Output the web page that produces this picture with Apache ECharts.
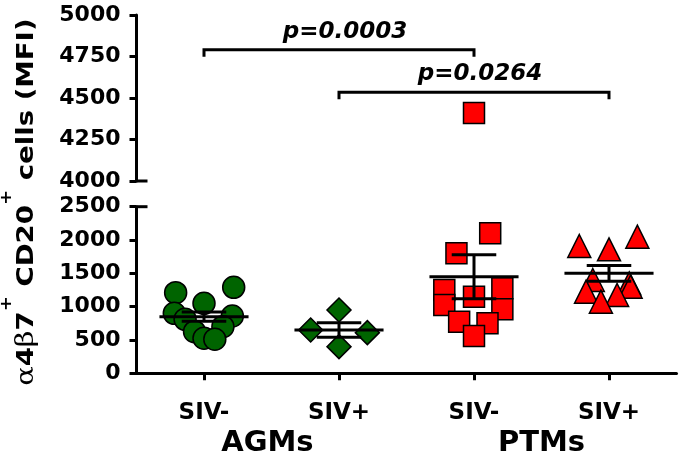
<!DOCTYPE html>
<html><head><meta charset="utf-8">
<script src="https://cdn.jsdelivr.net/npm/echarts@6/dist/echarts.min.js"></script>
<style>html,body{margin:0;padding:0;background:#fff}#c{width:680px;height:452px}</style>
</head><body><div id="c"></div>
<script>
const categories = ['SIV-', 'SIV+', 'SIV-', 'SIV+'];
const groups = ['AGMs', 'PTMs'];
const lowerTicks = [0, 500, 1000, 1500, 2000, 2500];
const upperTicks = [4000, 4250, 4500, 4750, 5000];
const agmNegValues = [1210, 1290, 1050, 900, 810, 860, 700, 625, 525, 510];
const agmNegJitter = [-0.21, 0.22, 0, -0.22, -0.14, 0.21, 0.14, -0.07, 0, 0.08];
const agmPosValues = [950, 650, 400, 610];
const agmPosJitter = [0, -0.21, 0, 0.21];
const ptmNegValues = [2100, 1800, 1250, 1150, 1275, 1025, 960, 775, 750, 560, 4410];
const ptmNegJitter = [0.12, -0.13, -0.22, 0, 0.21, -0.22, 0.21, -0.11, 0.10, 0, 0];
const ptmPosValues = [1910, 1860, 2050, 1400, 1350, 1300, 1225, 1175, 1075];
const ptmPosJitter = [-0.22, 0, 0.21, -0.12, 0.15, 0.16, -0.17, 0.06, -0.06];
const groupMeans = [850, 650, 1450, 1500];
const groupSEM = [68, 110, 330, 117];
const pFrom = [1, 2];
const pTo = [3, 4];
const pY = [4790, 4535];
const pLabels = ['p=0.0003', 'p=0.0264'];

const FONT = 'DejaVu Sans';
const BLACK = '#000';
const GREEN = '#006400';
const RED = '#ff0000';
const LOWER_MAX = 2500, UPPER_MIN = 4000;

function pts(values, jitter, pos, keep) {
  const out = [];
  values.forEach((v, i) => { if (keep(v)) out.push([pos + jitter[i], v]); });
  return out;
}
const isLow = v => v <= LOWER_MAX;
const isHigh = v => v >= UPPER_MIN;

const axisLineStyle = { show: true, onZero: false, lineStyle: { color: BLACK, width: 3 } };
const tickStyle = { show: true, length: 7, lineStyle: { color: BLACK, width: 3 } };
const yLabel = { fontSize: 22, fontWeight: 'bold', fontFamily: FONT, color: BLACK, margin: 16, formatter: v => String(v) };

function scatter(name, data, yIdx, symbol, size, color) {
  return {
    type: 'scatter', name, xAxisIndex: yIdx, yAxisIndex: yIdx, data,
    symbol, symbolSize: size, z: 3,
    itemStyle: { color, borderColor: BLACK, borderWidth: 1.5, opacity: 1 },
    emphasis: { disabled: true }
  };
}

const chart = echarts.init(document.getElementById('c'));
const option = {
  animation: false,
  backgroundColor: '#fff',
  grid: [
    { left: 136.5, width: 540, top: 15, height: 166, containLabel: false, outerBoundsMode: 'none' },
    { left: 136.5, width: 540, top: 206.7, height: 166.6, containLabel: false, outerBoundsMode: 'none' }
  ],
  xAxis: [
    { gridIndex: 0, type: 'value', min: 0.5, max: 4.5, show: false },
    {
      gridIndex: 1, type: 'value', min: 0.5, max: 4.5,
      axisLine: axisLineStyle,
      axisTick: Object.assign({ customValues: [1, 2, 3, 4] }, tickStyle),
      axisLabel: { customValues: [1, 2, 3, 4], formatter: v => categories[Math.round(v) - 1],
        fontSize: 23, fontWeight: 'bold', fontFamily: FONT, color: BLACK, margin: 28 },
      splitLine: { show: false }
    },
    {
      gridIndex: 1, type: 'value', min: 0.5, max: 4.5, position: 'bottom', offset: 0,
      axisLine: { show: false }, axisTick: { show: false },
      axisLabel: { customValues: [1.47, 3.5], formatter: v => groups[Math.floor(v / 2)],
        fontSize: 29, fontWeight: 'bold', fontFamily: FONT, color: BLACK, margin: 56 },
      splitLine: { show: false }
    }
  ],
  yAxis: [
    {
      gridIndex: 0, type: 'value', min: 4000, max: 5000,
      axisLine: axisLineStyle,
      axisTick: Object.assign({ customValues: upperTicks }, tickStyle),
      axisLabel: Object.assign({ customValues: upperTicks }, yLabel),
      splitLine: { show: false }
    },
    {
      gridIndex: 1, type: 'value', min: 0, max: 2500,
      axisLine: axisLineStyle,
      axisTick: Object.assign({ customValues: lowerTicks }, tickStyle),
      axisLabel: Object.assign({ customValues: lowerTicks }, yLabel),
      splitLine: { show: false }
    }
  ],
  series: [
    scatter('AGM SIV-', pts(agmNegValues, agmNegJitter, 1, isLow), 1, 'circle', 22, GREEN),
    scatter('AGM SIV+', pts(agmPosValues, agmPosJitter, 2, isLow), 1, 'diamond', 24, GREEN),
    scatter('PTM SIV-', pts(ptmNegValues, ptmNegJitter, 3, isLow), 1, 'rect', 21, RED),
    scatter('PTM SIV- high', pts(ptmNegValues, ptmNegJitter, 3, isHigh), 0, 'rect', 21, RED),
    scatter('PTM SIV+', pts(ptmPosValues, ptmPosJitter, 4, isLow), 1, 'triangle', 23, RED),
    {
      type: 'custom', xAxisIndex: 1, yAxisIndex: 1, z: 10, silent: true, clip: false,
      data: groupMeans.map((m, i) => [i + 1, m, groupSEM[i]]),
      renderItem: function (params, api) {
        const x = api.value(0), m = api.value(1), s = api.value(2);
        const st = { stroke: BLACK, lineWidth: 3 };
        const ln = (a, b) => ({ type: 'line', shape: { x1: a[0], y1: a[1], x2: b[0], y2: b[1] }, style: st });
        return {
          type: 'group', children: [
            ln(api.coord([x - 0.33, m]), api.coord([x + 0.33, m])),
            ln(api.coord([x, m - s]), api.coord([x, m + s])),
            ln(api.coord([x - 0.165, m + s]), api.coord([x + 0.165, m + s])),
            ln(api.coord([x - 0.165, m - s]), api.coord([x + 0.165, m - s]))
          ]
        };
      }
    },
    {
      type: 'custom', xAxisIndex: 0, yAxisIndex: 0, z: 10, silent: true, clip: false,
      encode: { x: 0, y: 2 },
      data: pFrom.map((f, i) => [f, pTo[i], pY[i], i]),
      renderItem: function (params, api) {
        const a = api.coord([api.value(0), api.value(2)]);
        const b = api.coord([api.value(1), api.value(2)]);
        const idx = api.value(3);
        return {
          type: 'group', children: [
            { type: 'polyline', shape: { points: [[a[0], a[1] + 7], a, b, [b[0], b[1] + 7]] },
              style: { stroke: BLACK, lineWidth: 3, fill: null } },
            { type: 'text', x: (a[0] + b[0]) / 2 + 6, y: a[1] - 18,
              style: { text: pLabels[idx], fontSize: 23, fontWeight: 'bold', fontStyle: 'italic',
                fontFamily: FONT, fill: BLACK, align: 'center', verticalAlign: 'middle' } }
          ]
        };
      }
    }
  ]
};
chart.setOption(option);

// axis break marks and y-axis title
const axX = chart.convertToPixel({ xAxisIndex: 1 }, 0.5);
const yTop = chart.convertToPixel({ yAxisIndex: 0 }, UPPER_MIN);
const yBot = chart.convertToPixel({ yAxisIndex: 1 }, LOWER_MAX);
const yUpperTop = chart.convertToPixel({ yAxisIndex: 0 }, 5000);
const yLowerBot = chart.convertToPixel({ yAxisIndex: 1 }, 0);
chart.setOption({
  graphic: [
    { type: 'line', shape: { x1: axX, y1: yTop, x2: axX + 11, y2: yTop }, style: { stroke: BLACK, lineWidth: 3 } },
    { type: 'line', shape: { x1: axX, y1: yBot, x2: axX + 11, y2: yBot }, style: { stroke: BLACK, lineWidth: 3 } },
    {
      type: 'text', x: 27, y: (yUpperTop + yLowerBot) / 2 + 8, rotation: Math.PI / 2, scaleX: 1.2,
      style: {
        text: '{g|α}{b|4}{g|β}{b|7}{s|+}{b| CD20}{s|+}{b| cells (MFI)}',
        align: 'center', verticalAlign: 'middle', fill: BLACK,
        rich: {
          g: { fontFamily: 'DejaVu Serif', fontSize: 24, fontWeight: 'normal', fill: BLACK },
          b: { fontFamily: FONT, fontSize: 23, fontWeight: 'bold', fill: BLACK },
          s: { fontFamily: FONT, fontSize: 15, fontWeight: 'bold', fill: BLACK, padding: [0, 0, 40, 0] }
        }
      }
    }
  ]
});
</script>
</body></html>
